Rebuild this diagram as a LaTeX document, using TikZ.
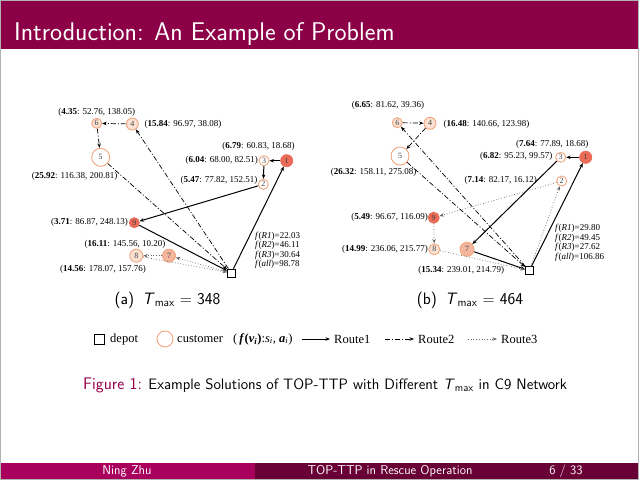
\documentclass[tikz,border=0pt]{standalone}
\usepackage{fontspec}
\newfontfamily\timesfont{Liberation Serif}
\usetikzlibrary{positioning}
\usetikzlibrary{arrows.meta}
\definecolor{titlebg}{RGB}{140,0,72}
\definecolor{footl}{RGB}{168,0,92}
\definecolor{footr}{RGB}{104,0,54}
\definecolor{figc}{RGB}{150,0,78}
\definecolor{ringc}{RGB}{242,166,126}
\definecolor{fillr}{RGB}{234,108,88}
\definecolor{fillm}{RGB}{245,182,160}
\definecolor{filll}{RGB}{252,226,212}
\tikzset{
    mynodew/.style = {circle, line width=0.9pt, draw=ringc, fill=white, inner sep=0pt, minimum size=10pt, font=\timesfont\fontsize{8}{8}\selectfont, text=black!75},
    mynodel/.style = {mynodew, fill=filll},
    mynodem/.style = {mynodew, fill=fillm},
    mynoder/.style = {mynodew, draw=fillr, fill=fillr},
    mydepot/.style = {rectangle, draw=black, line width=0.6pt, fill=white, minimum size=8pt, inner sep=0pt},
    mylabel/.style = {inner sep=0.5pt, font=\timesfont\fontsize{9}{9}\selectfont},
    myflabel/.style = {inner sep=0pt, align=left, font=\timesfont\fontsize{9}{9.6}\selectfont},
    mylegend/.style = {inner sep=1pt, font=\timesfont\fontsize{12.5}{12.5}\selectfont},
    mycap/.style = {inner sep=0pt, font=\sffamily\fontsize{16.5}{16.5}\selectfont},
    myfoot/.style = {text=white, inner sep=0pt, font=\sffamily\fontsize{12.8}{12.8}\selectfont},
    edgen/.style = {-{Stealth[length=4.5pt,width=3.5pt]}, line width=1pt, black}, % route 1
    edged/.style = {-{Stealth[length=4.5pt,width=3.5pt]}, line width=0.7pt, black, dash pattern=on 5pt off 2pt on 1pt off 2pt}, % route 2
    edgex/.style = {-{Stealth[length=4.5pt,width=3.5pt]}, line width=0.7pt, black!60, dotted}, % route 3
}

\begin{document}
\begin{tikzpicture}[x=1pt,y=-1pt]
\path[use as bounding box] (0,0) rectangle (639,480);
% slide frame
\fill[titlebg] (0,0) rectangle (639,49);
\node[anchor=base west, text=white, inner sep=0pt, font=\sffamily\fontsize{25.6}{25.6}\selectfont] at (14,40) (title) {Introduction: An Example of Problem};
\fill[footl] (0,463) rectangle (255,479);
\fill[footr] (255,463) rectangle (639,479);
\node[myfoot] at (127,471) (fauthor) {Ning Zhu};
\node[myfoot] at (390,471) (ftitle) {TOP-TTP in Rescue Operation};
\node[myfoot] at (566,471) (fpage) {6 / 33};
\draw[black!30, line width=1pt] (0.5,0.5) rectangle (638.5,479.5);
%
% (a) Tmax = 348
\node[mynodel] at (96.7,123.3) (a6) {6};
\node[mynodel, minimum size=12pt] at (132.3,124) (a4) {4};
\node[mynodew, minimum size=18pt] at (100.7,157.3) (a5) {5};
\node[mynodew] at (264,160.7) (a3) {3};
\node[mynoder, minimum size=12pt] at (286.7,160.7) (a1) {1};
\node[mynodew] at (263.3,184.3) (a2) {2};
\node[mynoder] at (134.3,222.7) (a9) {9};
\node[mynodem, minimum size=13pt] at (169,255.7) (a7) {7};
\node[mynodel, minimum size=13pt] at (136.3,255.7) (a8) {8};
\node[mydepot] at (231.3,273) (ad) {};
%
\node[mylabel] at (96.7,112.7) (la6) {(\textbf{4.35}: 52.76, 138.05)};
\node[mylabel, anchor=west] at (144,124.5) (la4) {(\textbf{15.84}: 96.97, 38.08)};
\node[mylabel, anchor=east] at (118,176) (la5) {(\textbf{25.92}: 116.38, 200.81)};
\node[mylabel, anchor=west] at (221.7,146) (la1) {(\textbf{6.79}: 60.83, 18.68)};
\node[mylabel, anchor=east] at (258.5,160.7) (la3) {(\textbf{6.04}: 68.00, 82.51)};
\node[mylabel, anchor=east] at (258,180) (la2) {(\textbf{5.47}: 77.82, 152.51)};
\node[mylabel, anchor=east] at (128.5,222.7) (la9) {(\textbf{3.71}: 86.87, 248.13)};
\node[mylabel, anchor=east] at (166,244) (la7) {(\textbf{16.11}: 145.56, 10.20)};
\node[mylabel, anchor=east] at (146.5,269.5) (la8) {(\textbf{14.56}: 178.07, 157.76)};
\node[myflabel, anchor=north west] at (255,231.5) (fa) {\textit{f}(\textit{R1})=22.03\\\textit{f}(\textit{R2})=46.11\\\textit{f}(\textit{R3})=30.64\\\textit{f}(\textit{all})=98.78};
%
\draw[edgen] (ad) edge (a1);
\draw[edgen] (a1) edge (a3);
\draw[edgen] (a3) edge (a2);
\draw[edgen] (a2) edge (a9);
\draw[edgen] (a9) edge (ad);
\draw[edged] (ad) edge (a4);
\draw[edged] (a4) edge (a6);
\draw[edged] (a6) edge (a5);
\draw[edged] (a5) edge (ad);
\draw[edgex] (ad) edge (a7);
\draw[edgex] (a7) edge (a8);
\draw[edgex] (a8) edge (ad);
%
% (b) Tmax = 464
\node[mynodel] at (397.3,122.7) (b6) {6};
\node[mynodel, minimum size=12pt] at (430,123.3) (b4) {4};
\node[mynodew, minimum size=18pt] at (400,156) (b5) {5};
\node[mynodew] at (560.7,157.3) (b3) {3};
\node[mynoder, minimum size=12pt] at (585.7,157.3) (b1) {1};
\node[mynodew] at (561.7,181) (b2) {2};
\node[mynoder, minimum size=11pt] at (433.7,217.7) (b9) {9};
\node[mynodel, minimum size=11pt] at (434.3,249.3) (b8) {8};
\node[mynodem, minimum size=14pt] at (467,249.3) (b7) {7};
\node[mydepot] at (529.3,270.7) (bd) {};
%
\node[mylabel] at (388,105.7) (lb6) {(\textbf{6.65}: 81.62, 39.36)};
\node[mylabel, anchor=west] at (443,124) (lb4) {(\textbf{16.48}: 140.66, 123.98)};
\node[mylabel, anchor=east] at (417,172.7) (lb5) {(\textbf{26.32}: 158.11, 275.08)};
\node[mylabel, anchor=east] at (589,144.3) (lb1) {(\textbf{7.64}: 77.89, 18.68)};
\node[mylabel, anchor=east] at (553,156.5) (lb3) {(\textbf{6.82}: 95.23, 99.57)};
\node[mylabel, anchor=east] at (537.5,180) (lb2) {(\textbf{7.14}: 82.17, 16.12)};
\node[mylabel, anchor=east] at (428.5,217.7) (lb9) {(\textbf{5.49}: 96.67, 116.09)};
\node[mylabel, anchor=east] at (428.5,249.3) (lb8) {(\textbf{14.99}: 236.06, 215.77)};
\node[mylabel, anchor=west] at (417.7,270.7) (lb7) {(\textbf{15.34}: 239.01, 214.79)};
\node[myflabel, anchor=north west] at (555,224) (fb) {\textit{f}(\textit{R1})=29.80\\\textit{f}(\textit{R2})=49.45\\\textit{f}(\textit{R3})=27.62\\\textit{f}(\textit{all})=106.86};
%
\draw[edgen] (bd) edge (b1);
\draw[edgen] (b1) edge (b3);
\draw[edgen] (b3) edge (b7);
\draw[edgen] (b7) edge (bd);
\draw[edged] (bd) edge (b6);
\draw[edged] (b6) edge (b4);
\draw[edged] (b4) edge (b5);
\draw[edged] (b5) edge (bd);
\draw[edgex] (bd) edge (b2);
\draw[edgex] (b2) edge (b9);
\draw[edgex] (b9) edge (b8);
\draw[edgex] (b8) edge (bd);
%
% sub captions
\node[mycap] at (167.5,300) (capa) {(a)\hspace{0.5em}\textsl{T}\textsubscript{max} = 348};
\node[mycap] at (470,300) (capb) {(b)\hspace{0.5em}\textsl{T}\textsubscript{max} = 464};
%
% legend
\node[mydepot, minimum size=10pt] at (99,339) (gdepot) {};
\node[mylegend, anchor=west] at (109,339) (tdepot) {depot};
\node[circle, draw=ringc, line width=0.9pt, minimum size=16pt, inner sep=0pt] at (165,339) (gcust) {};
\node[mylegend, anchor=west] at (176,339) (tcust) {customer};
\node[mylegend, anchor=west] at (232,339) (tform) {(\,\textbf{\textit{f}(\textit{v}\textsubscript{\textit{i}})}:\textit{s}\textsubscript{\textit{i}}, \textbf{\textit{a}}\textsubscript{\textit{i}})};
\coordinate (r1s) at (302,339);
\node[mylegend, anchor=west] at (333,339) (tr1) {Route1};
\coordinate (r2s) at (385,339);
\node[mylegend, anchor=west] at (417,339) (tr2) {Route2};
\coordinate (r3s) at (468,339);
\node[mylegend, anchor=west] at (500,339) (tr3) {Route3};
\draw[edgen, shorten >=3pt] (r1s) -- (tr1);
\draw[edged, shorten >=3pt] (r2s) -- (tr2);
\draw[edgex, shorten >=3pt] (r3s) -- (tr3);
%
% figure caption
\node[anchor=base west, inner sep=0pt, font=\sffamily\fontsize{15.1}{15.1}\selectfont] at (83,389) (figcap) {{\color{figc}\fontsize{16.8}{16.8}\selectfont Figure 1:} Example Solutions of TOP-TTP with Different \textsl{T}\textsubscript{max} in C9 Network};
\end{tikzpicture}
\end{document}
